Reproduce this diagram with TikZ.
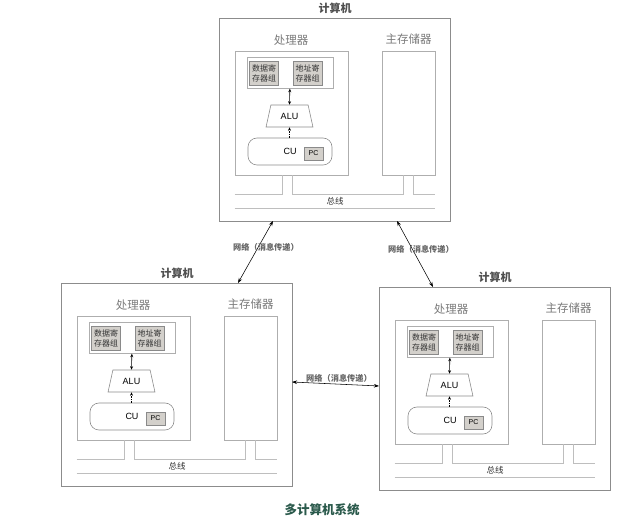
\documentclass[tikz,border=0pt]{standalone}
\usepackage{fontspec}
\setmainfont{Liberation Sans}
\newfontfamily\cjk{Noto Sans CJK SC}
\usetikzlibrary{arrows.meta,shapes.geometric}
\definecolor{boxgray}{HTML}{8C8C8C}
\definecolor{lightbox}{HTML}{AEAEAE}
\definecolor{regfill}{HTML}{D3D0CB}
\definecolor{regdraw}{HTML}{8A8A8A}
\definecolor{titlegray}{HTML}{505050}
\definecolor{labelgray}{HTML}{7A7A7A}
\definecolor{captiongreen}{HTML}{2B5A4C}
\tikzset{
  outerbox/.style={draw=boxgray, line width=0.8pt, inner sep=0pt},
  innerbox/.style={draw=lightbox, line width=0.7pt, inner sep=0pt},
  groupbox/.style={draw=lightbox, line width=0.7pt, inner sep=0pt, fill=white},
  regbox/.style={draw=regdraw, fill=regfill, line width=0.6pt, inner sep=0pt, align=center,
    font=\cjk\fontsize{8}{10}\selectfont, text=black!80},
  alubox/.style={draw=boxgray, line width=0.6pt, trapezium, trapezium stretches=true,
    trapezium angle=70, minimum width=47, minimum height=22, inner sep=0pt,
    font=\fontsize{9}{10}\selectfont},
  cubox/.style={draw=boxgray, line width=0.6pt, rounded corners=9, minimum width=84,
    minimum height=27, inner sep=0pt, font=\fontsize{9}{10}\selectfont},
  pcbox/.style={draw=regdraw, fill=regfill, line width=0.6pt, inner sep=0pt,
    minimum width=19, minimum height=13, font=\fontsize{7}{8}\selectfont},
  titletext/.style={font=\cjk\bfseries\fontsize{11}{13}\selectfont, text=titlegray},
  parttext/.style={font=\cjk\fontsize{11.5}{13}\selectfont, text=labelgray},
  bustext/.style={font=\cjk\fontsize{8.5}{10}\selectfont, text=black!80},
  nettext/.style={font=\cjk\bfseries\fontsize{8.2}{10}\selectfont, text=black!60},
  busline/.style={draw=lightbox!80, line width=0.8pt},
  innerarrow/.style={line width=0.6pt, {Stealth[length=3.5pt,width=3pt]}-{Stealth[length=3.5pt,width=3pt]}},
  dasharrow/.style={line width=0.6pt, dash pattern=on 1.5pt off 1pt, -{Stealth[length=3.5pt,width=3pt]}},
  netarrow/.style={line width=0.55pt, {Stealth[length=5pt,width=3.5pt]}-{Stealth[length=5pt,width=3.5pt]}},
  computer/.pic={
    \node[outerbox, anchor=north west, minimum width=231, minimum height=203] (-outer) at (0,0) {};
    \node[titletext] (-title) at (116,-10) {计算机};
    \node[parttext] (-plabel) at (72,22) {处理器};
    \node[innerbox, anchor=north west, minimum width=113.5, minimum height=124.5] (-proc) at (15.5,33) {};
    \node[parttext] (-mlabel) at (189.5,21) {主存储器};
    \node[innerbox, anchor=north west, minimum width=52.5, minimum height=124.5] (-mem) at (163,33) {};
    \node[groupbox, anchor=north west, minimum width=86, minimum height=31] (-regs) at (27.5,39) {};
    \node[regbox, minimum width=29, minimum height=24] (-data) at (45,55) {数据寄\\存器组};
    \node[regbox, minimum width=29, minimum height=24] (-addr) at (88.5,55) {地址寄\\存器组};
    \node[alubox] (-alu) at (70.5,98) {ALU};
    \node[cubox] (-cu) at (71,133.5) {CU};
    \node[pcbox] (-pc) at (94.5,135.5) {PC};
    \draw[innerarrow] (-regs.south) -- (-alu.north);
    \draw[dasharrow] (-cu.north -| -alu.south) -- (-alu.south);
    \draw[busline] (15.5,176) -| (63,157.5);
    \draw[busline] (73,157.5) |- (184,176) -- (184,157.5);
    \draw[busline] (194,157.5) |- (215.5,176);
    \draw[busline] (15.5,190) -- (215.5,190);
    \node[bustext] (-bus) at (116,183) {总线};
    \coordinate (-b1) at (54,203);
    \coordinate (-b2) at (178,203);
    \coordinate (-t1) at (177,0);
    \coordinate (-t2) at (54,0);
    \coordinate (-r) at (231,99);
    \coordinate (-l) at (0,99);
  }
}
\begin{document}
\begin{tikzpicture}[x=1pt,y=-1pt]
  \useasboundingbox (0,0) rectangle (622,521);
  \pic (top) at (219,18) {computer};
  \pic (bl) at (61,283) {computer};
  \pic (br) at (379,287) {computer};
  \draw[netarrow] (top-b1) -- (bl-t1);
  \draw[netarrow] (top-b2) -- (br-t2);
  \draw[netarrow] (bl-r) -- (br-l);
  \node[nettext] (net1) at (266,247) {网络（消息传递）};
  \node[nettext] (net2) at (421,249) {网络（消息传递）};
  \node[nettext] (net3) at (339,378) {网络（消息传递）};
  \node[font=\cjk\bfseries\fontsize{12.5}{14}\selectfont, text=captiongreen] (caption) at (322,510) {多计算机系统};
\end{tikzpicture}
\end{document}
